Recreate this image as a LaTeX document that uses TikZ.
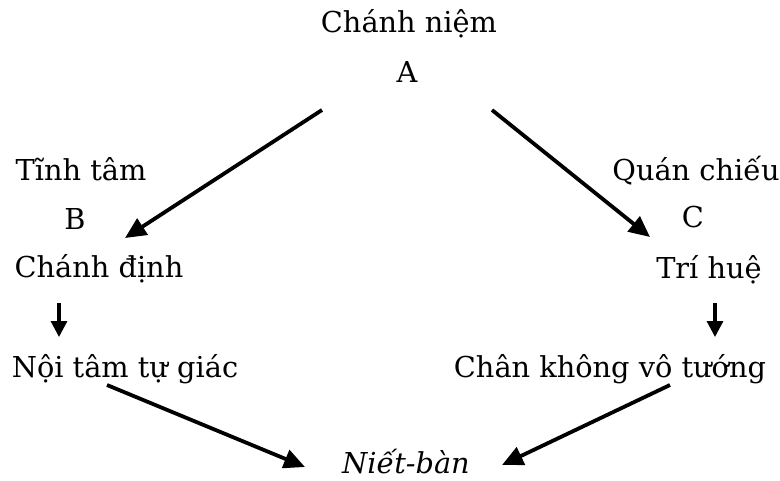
\documentclass[tikz,border=0pt]{standalone}
\usepackage{fontspec}
\setmainfont{DejaVu Serif}
\usetikzlibrary{arrows.meta}
\begin{document}
\begin{tikzpicture}[x=1pt,y=-1pt,
  lbl/.style={anchor=base,inner sep=0pt,font=\fontsize{28.8}{34}\selectfont},
  bigarrow/.style={line width=3.8pt,-{Triangle[length=21pt,width=19pt]}},
  smallarrow/.style={line width=3.2pt,-{Triangle[length=16pt,width=16pt]}}]
\useasboundingbox (0,0) rectangle (780,480);
% top
\node[lbl] (cn) at (409,32) {Chánh niệm};
\node[lbl] (A) at (407,82) {A};
% left column
\node[lbl] (tt) at (81,180) {Tĩnh tâm};
\node[lbl] (B) at (75,229) {B};
\node[lbl] (cd) at (99,277) {Chánh định};
\node[lbl] (nt) at (125,377) {Nội tâm tự giác};
% right column
\node[lbl] (qc) at (696,180) {Quán chiếu};
\node[lbl] (C) at (693,227) {C};
\node[lbl] (th) at (709,278) {Trí huệ};
\node[lbl] (ck) at (610,377) {Chân không vô tướng};
% bottom
\node[lbl,font=\fontsize{28.8}{34}\selectfont\itshape] (nb) at (406,473) {Niết-bàn};
% connector end points
\coordinate (a1) at (322,110);
\coordinate (b1) at (125,238);
\coordinate (a2) at (492,110);
\coordinate (c1) at (650,237);
\coordinate (l1) at (59,303);
\coordinate (l2) at (59,337);
\coordinate (r1) at (715,303);
\coordinate (r2) at (715,337);
\coordinate (n1) at (107,385);
\coordinate (n2) at (305,467);
\coordinate (k1) at (670,385);
\coordinate (k2) at (502,465);
\draw[bigarrow] (a1) -- (b1);
\draw[bigarrow] (a2) -- (c1);
\draw[smallarrow] (l1) -- (l2);
\draw[smallarrow] (r1) -- (r2);
\draw[bigarrow] (n1) -- (n2);
\draw[bigarrow] (k1) -- (k2);
\end{tikzpicture}
\end{document}
